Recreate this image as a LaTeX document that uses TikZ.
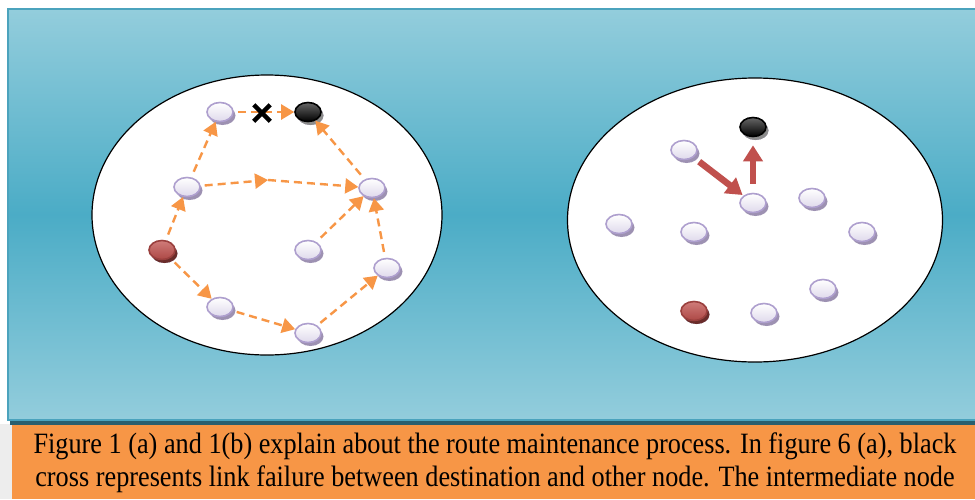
\documentclass[tikz,border=0pt]{standalone}
\usepackage{fontspec}
\newfontfamily\capfont[FakeStretch=0.89]{Liberation Serif}
\usetikzlibrary{arrows.meta}
\usetikzlibrary{shapes.geometric,shapes.misc}
\usetikzlibrary{shadows}
\definecolor{panellight}{HTML}{93CDDC}
\definecolor{paneldark}{HTML}{4BACC6}
\definecolor{paneledge}{HTML}{4BA3BD}
\definecolor{panelshadow}{HTML}{2A5F6E}
\definecolor{captionbg}{HTML}{F79646}
\definecolor{routeorange}{HTML}{F79646}
\definecolor{repairred}{HTML}{C0504D}
\definecolor{hostedge}{HTML}{AE9FCE}
\definecolor{hostshade}{HTML}{9D91B2}

\begin{document}
\begin{tikzpicture}[
  x=1pt, y=-1pt,
  host/.style={
    ellipse,
    draw=hostedge,
    line width=1.6pt,
    minimum width=26pt,
    minimum height=19pt,
    top color=white,
    bottom color=hostedge!40,
    drop shadow={shadow xshift=2.5pt,shadow yshift=-3.5pt,fill=hostshade,opacity=1}},
  sink/.style={host,draw=black,top color=black!60,bottom color=black,
    drop shadow={shadow xshift=2.5pt,shadow yshift=-3.5pt,fill=black!45,opacity=1}},
  source/.style={host,draw=repairred!80!black,top color=repairred!75,bottom color=repairred!90!black,
    drop shadow={shadow xshift=2.5pt,shadow yshift=-3.5pt,fill=repairred!55!black,opacity=1}},
  route/.style={draw=routeorange,line width=2.4pt,dash pattern=on 8pt off 5pt,
    -{Triangle[length=13pt,width=15pt]}},
  repair/.style={draw=repairred,line width=6.5pt,
    -{Triangle[length=16pt,width=19pt]}}]
  \useasboundingbox (0,0) rectangle (975,499);
  % page background and caption strip
  \fill[black!7] (0,424) rectangle (12,499);
  \fill[captionbg] (12,424) rectangle (975,499);
  \fill[panelshadow] (10,419) rectangle (975,425);
  % blue panel
  \shade[top color=panellight,bottom color=panellight,middle color=paneldark]
    (8,9) rectangle (976,420);
  \draw[paneledge,line width=2pt] (976,9) -- (8,9) -- (8,420) -- (976,420);
  % the two networks
  \node[ellipse,draw,fill=white,line width=1.2pt,minimum width=350pt,minimum height=280pt] (neta) at (267,215) {};
  \node[ellipse,draw,fill=white,line width=1.2pt,minimum width=375pt,minimum height=284pt] (netb) at (755,220) {};
  % network (a): hosts
  \foreach \name/\pos in {a/{(220,112)},b/{(187,187)},c/{(372,188)},e/{(308,250)},
                          f/{(387,268)},g/{(220,307)},h/{(308,333)}}
    \node[host] (\name) at \pos {};
  \node[source] (s) at (162,250) {};
  \node[sink] (d) at (308,112) {};
  % network (a): route discovery and broken link
  \coordinate (bc) at (268,180);
  \draw[route,shorten <=6pt] (s) -- (b);
  \draw[route,shorten <=6pt] (b) -- (a);
  \draw[route,shorten <=4pt] (b) -- (bc);
  \draw[route] (bc) -- (c);
  \draw[route,shorten <=6pt] (c) -- (d);
  \draw[route,shorten <=4pt] (a) -- (d);
  \draw[route,shorten <=6pt] (s) -- (g);
  \draw[route,shorten <=4pt] (g) -- (h);
  \draw[route,shorten <=4pt] (h) -- (f);
  \draw[route,shorten <=6pt] (f) -- (c);
  \draw[route,shorten <=6pt] (e) -- (c);
  \node[cross out,draw=black,line width=4.5pt,minimum size=12pt,inner sep=0pt] (fail) at (262,113) {};
  % network (b): hosts
  \foreach \name/\pos in {p/{(684,150)},q/{(753,203)},r/{(812,198)},k1/{(619,224)},
                          k2/{(694,232)},k3/{(862,232)},k4/{(823,289)},k5/{(764,313)}}
    \node[host] (\name) at \pos {};
  \node[source] (s2) at (694,311) {};
  \node[sink] (d2) at (753,127) {};
  % network (b): local repair
  \draw[repair,shorten <=7pt,shorten >=1pt] (p) -- (q);
  \draw[repair,shorten <=9pt,shorten >=8pt] (q.north) -- (d2.south);
  % caption
  \node[font=\capfont\fontsize{29.5}{34}\selectfont,inner sep=0pt] (cap1) at (495,446)
    {Figure 1 (a) and 1(b) explain about the route maintenance process. In figure 6 (a), black};
  \node[font=\capfont\fontsize{29.5}{34}\selectfont,inner sep=0pt] (cap2) at (495,479)
    {cross represents link failure between destination and other node. The intermediate node};
\end{tikzpicture}
\end{document}
